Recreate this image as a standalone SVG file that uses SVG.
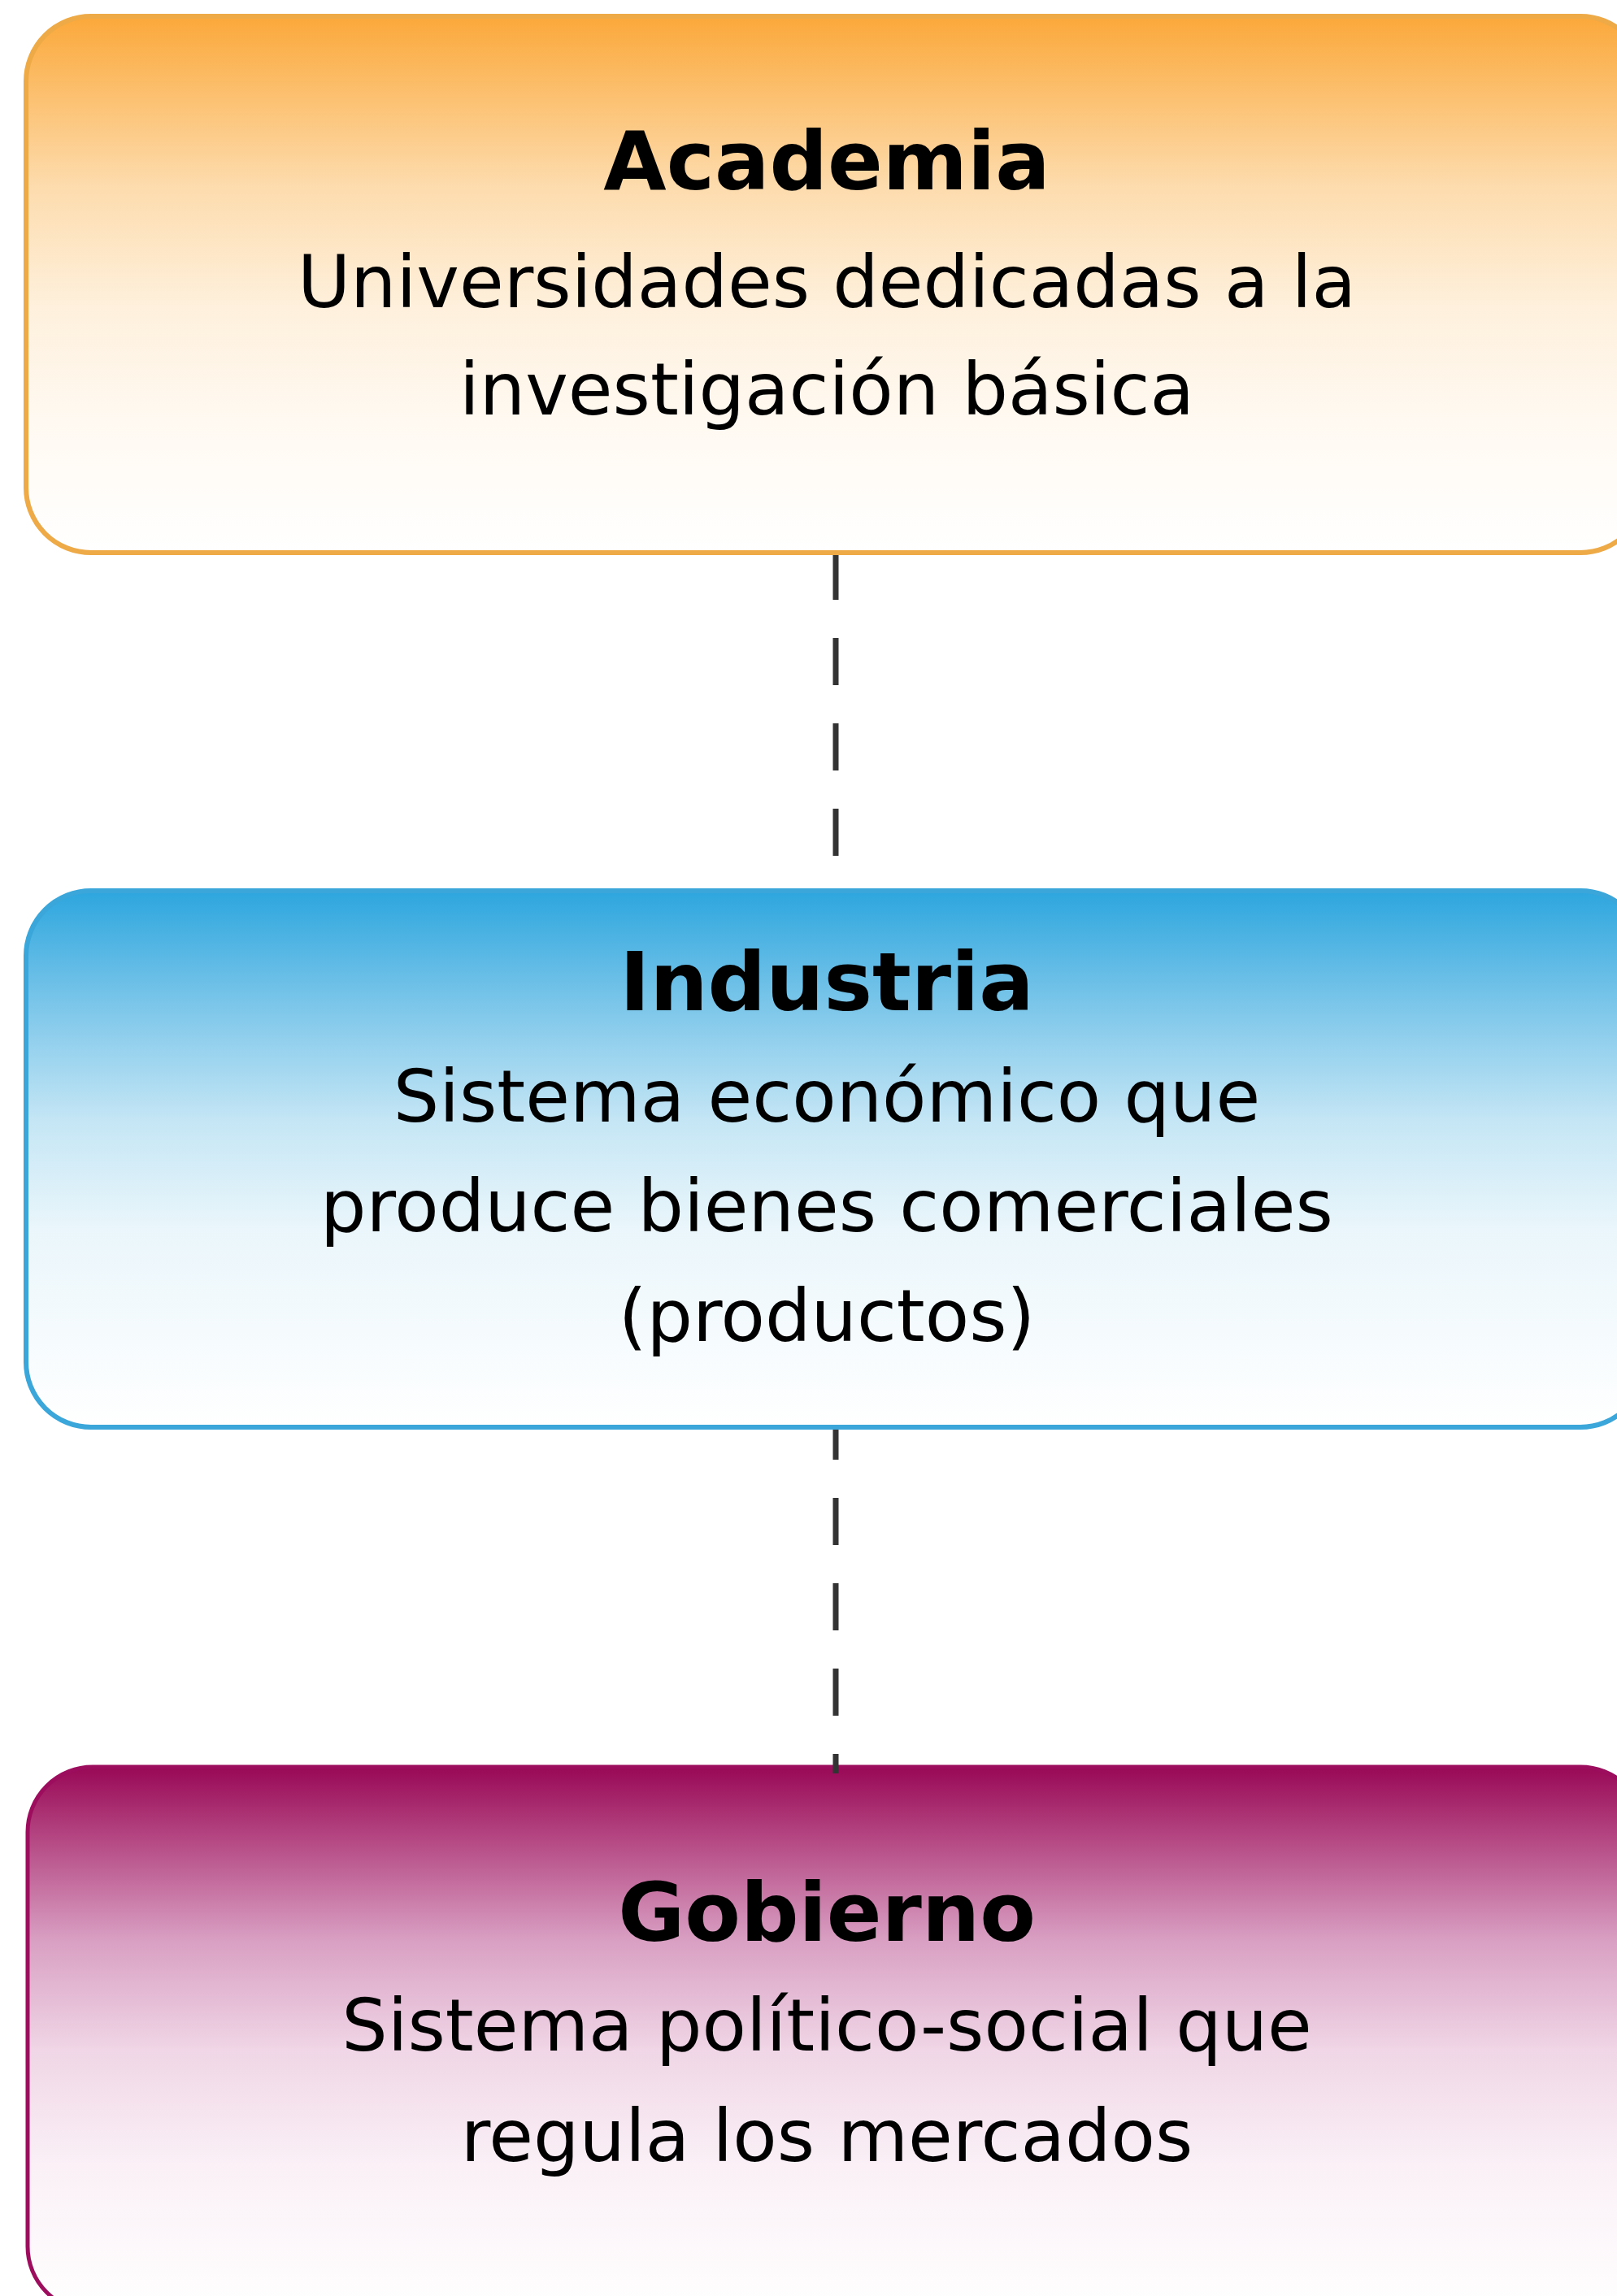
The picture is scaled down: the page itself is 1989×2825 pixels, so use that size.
<svg xmlns="http://www.w3.org/2000/svg" width="1989" height="2825" viewBox="0 0 1989 2825">
  <defs>
    <linearGradient id="gAcad" x1="0" y1="0" x2="0" y2="1">
      <stop offset="0" stop-color="#FBA83A"/>
      <stop offset="0.32" stop-color="#FDDCAE"/>
      <stop offset="0.54" stop-color="#FEF0DC"/>
      <stop offset="0.75" stop-color="#FFF9F1"/>
      <stop offset="1" stop-color="#FFFFFF"/>
    </linearGradient>
    <linearGradient id="gInd" x1="0" y1="0" x2="0" y2="1">
      <stop offset="0" stop-color="#2DA6DE"/>
      <stop offset="0.22" stop-color="#7EC7EA"/>
      <stop offset="0.43" stop-color="#C5E6F5"/>
      <stop offset="0.63" stop-color="#EAF6FB"/>
      <stop offset="1" stop-color="#FFFFFF"/>
    </linearGradient>
    <linearGradient id="gGob" x1="0" y1="0" x2="0" y2="1">
      <stop offset="0" stop-color="#990856"/>
      <stop offset="0.12" stop-color="#B2427F"/>
      <stop offset="0.32" stop-color="#D9A0C3"/>
      <stop offset="0.52" stop-color="#F0D6E6"/>
      <stop offset="0.73" stop-color="#FAF0F6"/>
      <stop offset="1" stop-color="#FFFFFF"/>
    </linearGradient>
  </defs>
  <style>
    .title { font-family: "DejaVu Sans", sans-serif; font-weight: bold; font-size: 100px; fill: #000; text-anchor: middle; }
    .body { font-family: "DejaVu Sans", sans-serif; font-size: 89px; fill: #000; text-anchor: middle; }
    .conn { stroke: #333333; stroke-width: 7; fill: none; stroke-dasharray: 58 47; }
  </style>
  <rect x="0" y="0" width="1989" height="2825" fill="#FFFFFF"/>

  <g id="academia">
    <rect x="32" y="20" width="1992" height="660" rx="80" ry="80" fill="url(#gAcad)" stroke="#EDAA47" stroke-width="6"/>
    <text class="title" x="1017" y="233">Academia</text>
    <text class="body" x="1017" y="378">Universidades dedicadas a la</text>
    <text class="body" x="1017" y="510">investigación básica</text>
  </g>

  <g id="industria">
    <rect x="32" y="1096" width="1992" height="660" rx="80" ry="80" fill="url(#gInd)" stroke="#3AA6D9" stroke-width="6"/>
    <text class="title" x="1017" y="1243">Industria</text>
    <text class="body" x="1017" y="1380">Sistema económico que</text>
    <text class="body" x="1017" y="1515">produce bienes comerciales</text>
    <text class="body" x="1017" y="1650">(productos)</text>
  </g>

  <g id="gobierno">
    <rect x="34" y="2174" width="1990" height="670" rx="80" ry="80" fill="url(#gGob)" stroke="#9C0D5E" stroke-width="5"/>
    <text class="title" x="1017" y="2388">Gobierno</text>
    <text class="body" x="1017" y="2523">Sistema político-social que</text>
    <text class="body" x="1017" y="2659">regula los mercados</text>
  </g>

  <g id="connectors">
    <line class="conn" x1="1028" y1="683" x2="1028" y2="1053" stroke-dashoffset="3"/>
    <line class="conn" x1="1028" y1="1759" x2="1028" y2="2182" stroke-dashoffset="21"/>
  </g>
</svg>
